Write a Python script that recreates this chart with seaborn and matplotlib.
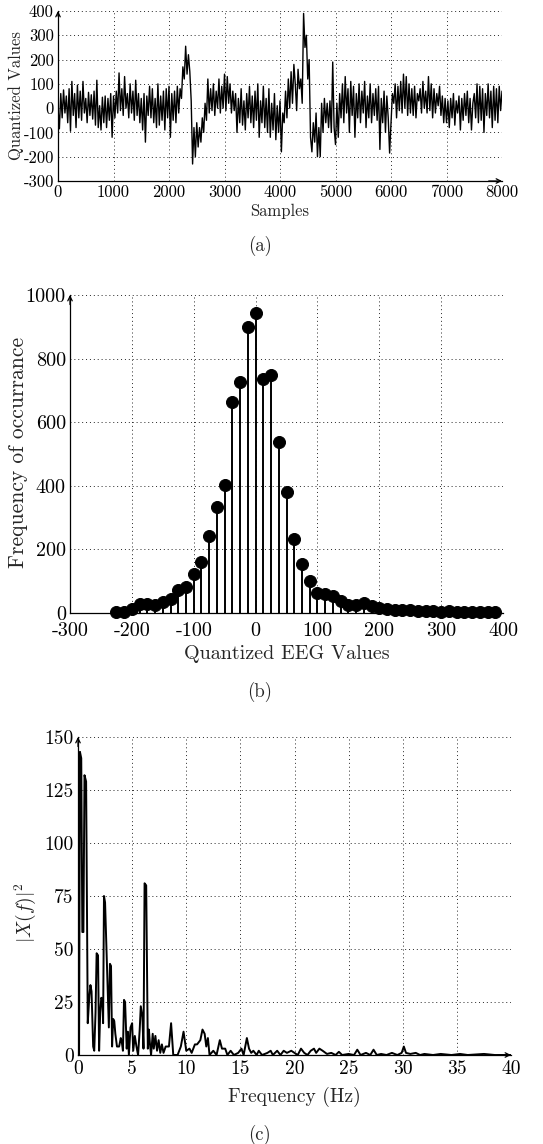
import numpy as np
import seaborn as sns
from matplotlib import pyplot as plt

# (a) quantized EEG trace, one value every 25 samples
sample_step = 25
eeg_values = [
    0, -85, 60, -40, 75, -20, 50, -60, 80, -95, 110, -30, 60, -80, 95, -40, 70, -50, 110, -20,
    40, -60, 65, -30, 55, -45, 70, -70, 115, -80, 10, -90, 45, -60, 50, -80, 40, -50, 60, -120,
    50, -40, 70, -20, 145, -10, 80, -30, 130, 0, 60, -40, 100, -20, 70, -50, 115, -30, 60, -60,
    40, -90, 60, -140, 50, -30, 90, -40, 80, -60, 40, -80, 100, -70, 50, -50, 70, -90, 80, -40,
    90, -120, 60, -50, 70, -60, 90, -20, 80, 40, 170, 120, 255, 140, 220, 150, 30, -230, -80, -200,
    -60, -160, -80, -140, -40, -100, 20, -50, 120, -20, 80, -10, 100, -30, 70, 0, 120, -20, 90, 0,
    140, -10, 130, 20, 100, -20, 70, -10, 60, -100, 40, -60, 80, -70, 30, -90, 60, -40, 90, -60,
    50, -80, 70, -50, 100, -120, 30, -60, 90, -80, 40, -100, 80, -120, 20, -90, 60, -130, 10, -100,
    30, -180, -20, -60, 70, -40, 120, 0, 150, 20, 180, 100, -10, 160, 80, 120, 20, 390, 250, 300,
    120, 200, -120, -180, -60, -140, -20, -200, -80, -200, 20, -100, 40, -60, 20, -80, 30, -100, 190, -80,
    -150, 20, -120, 60, -40, 100, -60, 130, -20, 80, -100, 110, -30, 90, -120, 60, -40, 100, -60, 70,
    -20, 110, -80, 50, -40, 100, -60, 60, -30, 80, -50, 90, -170, 40, -60, 70, -100, 50, -40, -185,
    -60, 60, 20, 100, -40, 90, -10, 110, -20, 140, 0, 130, -30, 100, -20, 80, -30, 90, -40, 60,
    30, 80, -20, 110, 0, 70, -20, 130, -10, 100, -40, 80, -20, 60, 10, 90, -30, 50, -60, 40,
    -60, 30, -80, 40, -40, 60, -70, 30, -20, 50, -90, 40, -50, 60, -30, 70, -60, 40, -90, 20,
    60, -40, 100, -60, 90, -50, 80, -100, 60, -30, 100, -40, 70, -80, 90, -50, 80, -60, 90, -10,
    70,
]

# (b) histogram of quantized values
bin_width = 12.5
bin_index = np.arange(-18, 32)
counts = [
    3, 3, 14, 27, 27, 24, 35, 45, 71, 82,
    124, 160, 241, 333, 404, 664, 725, 900, 942, 735,
    750, 538, 379, 232, 153, 100, 64, 59, 52, 37,
    24, 24, 31, 21, 17, 14, 10, 8, 11, 6,
    6, 5, 4, 5, 3, 4, 4, 3, 2, 2,
]

# (c) power spectrum
freqs = [
    0.0, 0.1, 0.18, 0.3, 0.4, 0.5, 0.6, 0.75, 0.9, 1.05,
    1.15, 1.25, 1.4, 1.5, 1.62, 1.72, 1.85, 1.95, 2.05, 2.15,
    2.25, 2.32, 2.4, 2.5, 2.6, 2.75, 2.85, 2.95, 3.05, 3.15,
    3.25, 3.35, 3.45, 3.6, 3.8, 3.95, 4.05, 4.15, 4.25, 4.35,
    4.5, 4.6, 4.7, 4.85, 5.0, 5.1, 5.25, 5.4, 5.55, 5.7,
    5.8, 5.95, 6.05, 6.15, 6.3, 6.45, 6.55, 6.65, 6.75, 6.9,
    7.0, 7.15, 7.3, 7.45, 7.6, 7.75, 7.9, 8.1, 8.4, 8.6,
    8.8, 9.2, 9.5, 9.75, 10.0, 10.3, 10.5, 10.8, 11.0, 11.3,
    11.5, 11.7, 11.85, 12.0, 12.15, 12.5, 12.8, 13.1, 13.3, 13.6,
    13.8, 14.1, 14.4, 14.8, 15.1, 15.3, 15.6, 15.8, 16.0, 16.2,
    16.5, 16.7, 17.0, 17.5, 17.8, 18.0, 18.4, 18.7, 19.0, 19.3,
    19.7, 20.0, 20.3, 20.6, 20.9, 21.2, 21.5, 21.8, 22.0, 22.3,
    22.6, 23.0, 23.4, 23.8, 24.1, 24.4, 25.0, 25.5, 25.8, 26.1,
    26.6, 27.0, 27.3, 27.6, 28.0, 28.5, 29.0, 29.5, 29.9, 30.1,
    30.3, 30.7, 31.2, 31.6, 32.0, 32.8, 33.5, 34.5, 35.3, 36.0,
    37.0, 37.5, 38.5, 40.0,
]
power = [
    -3, 0, 143, 140, 58, 58, 132, 129, 15, 28,
    33, 30, 4, 2, 20, 48, 47, 2, 20, 27,
    26, 15, 75, 72, 55, 30, 13, 43, 42, 4,
    17, 16, 10, 4, 4, 8, 6, 2, 26, 25,
    3, 11, 0, 13, 15, 2, 9, 4, 0, 12,
    23, 18, 3, 81, 80, 3, 12, 5, 0, 10,
    3, 9, 2, 7, 1, 5, 1, 4, 4, 15,
    0, 0, 4, 11, 2, 3, 1, 5, 5, 7,
    12, 10, 4, 8, 0, 2, 0, 7, 3, 3,
    0, 2, 0, 1, 3, 0, 8, 3, 1, 2,
    0, 2, 0, 1, 2, 0, 2, 0, 2, 1,
    2, 1, 0, 3, 1, 0, 2, 3, 1, 3,
    2, 0.5, 1, 0, 1.5, 0, 0.5, 0, 2.5, 0,
    1, 0, 2.5, 0, 0.5, 0, 1, 0, 1, 4,
    1, 0.5, 1, 0, 0.5, 0, 0.5, 0, 0.5, 0,
    0.3, 0.5, 0, 0,
]

sns.set_style("white")
plt.rcParams["font.family"] = "cmr10"
plt.rcParams["mathtext.fontset"] = "cm"
plt.rcParams["axes.unicode_minus"] = False


def style_axis(ax, fontsize, xpad=3):
    for side in ["top", "right"]:
        ax.spines[side].set_visible(False)
    for side in ["left", "bottom"]:
        ax.spines[side].set_color("black")
        ax.spines[side].set_linewidth(0.9)
    ax.grid(True, linestyle=(0, (1, 3)), color="0.15", linewidth=0.7)
    ax.set_axisbelow(True)
    ax.tick_params(length=0, pad=3, labelsize=fontsize, colors="black")
    ax.tick_params(axis="x", pad=xpad)
    arrow = dict(arrowstyle="->", color="black", lw=0.9, shrinkA=0, shrinkB=0, mutation_scale=8)
    ax.annotate("", xy=(1.0, 0), xytext=(0.97, 0), xycoords="axes fraction", arrowprops=arrow)
    ax.annotate("", xy=(0, 1.0), xytext=(0, 0.97), xycoords="axes fraction", arrowprops=arrow)


def set_labels(ax, xlabel, ylabel, xsize, ysize, xpos, ypos):
    ax.set_xlabel(xlabel, fontsize=xsize, va="center")
    ax.set_ylabel(ylabel, fontsize=ysize, va="center")
    ax.xaxis.set_label_coords(*xpos)
    ax.yaxis.set_label_coords(*ypos)


W, H = 543, 1144
fig = plt.figure(figsize=(W / 100, H / 100), dpi=100)


def axes_px(left, top, right, bottom):
    return fig.add_axes([left / W, 1 - bottom / H, (right - left) / W, (bottom - top) / H])


# (a)
ax_a = axes_px(58, 11, 502, 181)
samples = np.arange(len(eeg_values)) * sample_step
sns.lineplot(x=samples, y=eeg_values, ax=ax_a, color="black", lw=1.0, estimator=None, sort=False)
ax_a.set_xlim(0, 8000)
ax_a.set_ylim(-300, 400)
ax_a.set_xticks(np.arange(0, 8001, 1000))
ax_a.set_yticks(np.arange(-300, 401, 100))
style_axis(ax_a, 12)
set_labels(ax_a, "Samples", "Quantized Values", 12, 12, (0.5, -0.18), (-0.095, 0.5))

# (b)
ax_b = axes_px(70, 295, 503, 613)
bins = bin_index * bin_width
ax_b.vlines(bins, 0, counts, color="black", lw=1.4, zorder=2)
sns.scatterplot(x=bins, y=counts, ax=ax_b, color="black", edgecolor="black", s=75,
                zorder=3, clip_on=False, legend=False)
ax_b.set_xlim(-300, 400)
ax_b.set_ylim(0, 1000)
ax_b.set_xticks(np.arange(-300, 401, 100))
ax_b.set_yticks(np.arange(0, 1001, 200))
style_axis(ax_b, 14.5, xpad=6.5)
set_labels(ax_b, "Quantized EEG Values", "Frequency of occurrance", 14.5, 15.5,
           (0.5, -0.128), (-0.12, 0.506))

# (c)
ax_c = axes_px(78, 737, 511, 1055)
sns.lineplot(x=freqs, y=power, ax=ax_c, color="black", lw=1.4, estimator=None, sort=False)
ax_c.set_xlim(0, 40)
ax_c.set_ylim(0, 150)
ax_c.set_xticks(np.arange(0, 41, 5))
ax_c.set_yticks(np.arange(0, 151, 25))
style_axis(ax_c, 14, xpad=4)
set_labels(ax_c, "Frequency (Hz)", r"$|X(f)|^2$", 14, 14, (0.5, -0.132), (-0.122, 0.447))

for label, y in [("(a)", 246), ("(b)", 692), ("(c)", 1135)]:
    fig.text(260 / W, 1 - y / H, label, ha="center", va="center", fontsize=13.5)

fig.savefig("out.png", dpi=100)
